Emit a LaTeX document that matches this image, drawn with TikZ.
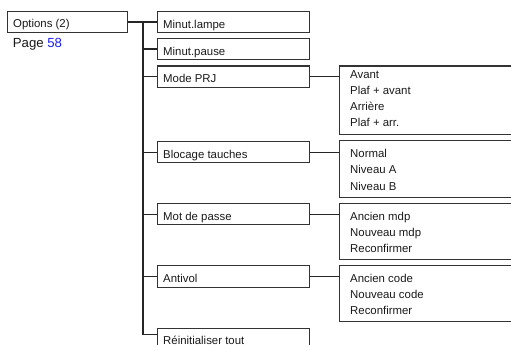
\documentclass[tikz,border=0pt]{standalone}
\usepackage{fontspec}
\setmainfont{Liberation Sans}
\definecolor{linkblue}{RGB}{30,30,255}
\begin{document}
\begin{tikzpicture}[x=1pt,y=-1pt,
  box/.style={draw=black!80, line width=1.1pt, rectangle, inner sep=0pt, anchor=north west},
  lbl/.style={anchor=base west, inner sep=0pt, font=\fontsize{11.4}{13}\selectfont, text=black!90},
  wire/.style={draw=black!85, line width=1.1pt}]
\useasboundingbox (0,0) rectangle (511,345);
\clip (0,0) rectangle (511,345);
% left column
\node[box, minimum width=120pt, minimum height=21pt] (opt) at (7,11) {};
\node[lbl] (optT) at (13,27.3) {Options (2)};
\node[lbl, font=\fontsize{13.2}{15}\selectfont] (page) at (12.7,47.3) {Page \textcolor{linkblue}{58}};
% main menu boxes
\node[box, minimum width=152pt, minimum height=21pt] (lampe) at (157,11) {};
\node[box, minimum width=152pt, minimum height=21pt] (pause) at (157,38) {};
\node[box, minimum width=152pt, minimum height=21.5pt] (mode) at (157,65.5) {};
\node[box, minimum width=152pt, minimum height=21pt] (bloc) at (157,141) {};
\node[box, minimum width=152pt, minimum height=21pt] (mdp) at (157,203) {};
\node[box, minimum width=152pt, minimum height=21.5pt] (anti) at (157,265) {};
\node[box, minimum width=152pt, minimum height=21pt] (reinit) at (157,328) {};
\node[lbl] (lampeT) at (163,28.3) {Minut.lampe};
\node[lbl] (pauseT) at (163,55.3) {Minut.pause};
\node[lbl] (modeT) at (163,82.5) {Mode PRJ};
\node[lbl] (blocT) at (163,158) {Blocage tauches};
\node[lbl] (mdpT) at (163,220) {Mot de passe};
\node[lbl] (antiT) at (163,282.3) {Antivol};
\node[lbl] (reinitT) at (163,344.6) {Réinitialiser tout};
% sub menu boxes
\node[box, minimum width=185pt, minimum height=68.5pt] (subprj) at (339,65.5) {};
\node[box, minimum width=185pt, minimum height=57pt] (subbloc) at (339,140) {};
\node[box, minimum width=185pt, minimum height=56pt] (submdp) at (339,203) {};
\node[box, minimum width=185pt, minimum height=56pt] (subanti) at (339,265) {};
\node[lbl] (s1a) at (350,78.3) {Avant};
\node[lbl] (s1b) at (350,94.4) {Plaf + avant};
\node[lbl] (s1c) at (350,110.5) {Arrière};
\node[lbl] (s1d) at (350,126.7) {Plaf + arr.};
\node[lbl] (s2a) at (350,157.7) {Normal};
\node[lbl] (s2b) at (350,173.9) {Niveau A};
\node[lbl] (s2c) at (350,190) {Niveau B};
\node[lbl] (s3a) at (350,220) {Ancien mdp};
\node[lbl] (s3b) at (350,236.3) {Nouveau mdp};
\node[lbl] (s3c) at (350,252.5) {Reconfirmer};
\node[lbl] (s4a) at (350,282.3) {Ancien code};
\node[lbl] (s4b) at (350,298.5) {Nouveau code};
\node[lbl] (s4c) at (350,314.7) {Reconfirmer};
% trunk
\coordinate (tk) at (143,21.5);
\coordinate (rin) at (157,334.5);
\draw[wire] (opt.east) -- (lampe.west);
\draw[wire] (tk) |- (rin);
\foreach \n in {pause,mode,bloc,mdp,anti}
  \draw[wire] (\n.west -| tk) -- (\n.west);
% sub connectors
\draw[wire] (mode.east) -- (mode.east -| subprj.west);
\draw[wire] (bloc.east) -- (bloc.east -| subbloc.west);
\draw[wire] (mdp.east) -- (mdp.east -| submdp.west);
\draw[wire] (anti.east) -- (anti.east -| subanti.west);
\end{tikzpicture}
\end{document}
